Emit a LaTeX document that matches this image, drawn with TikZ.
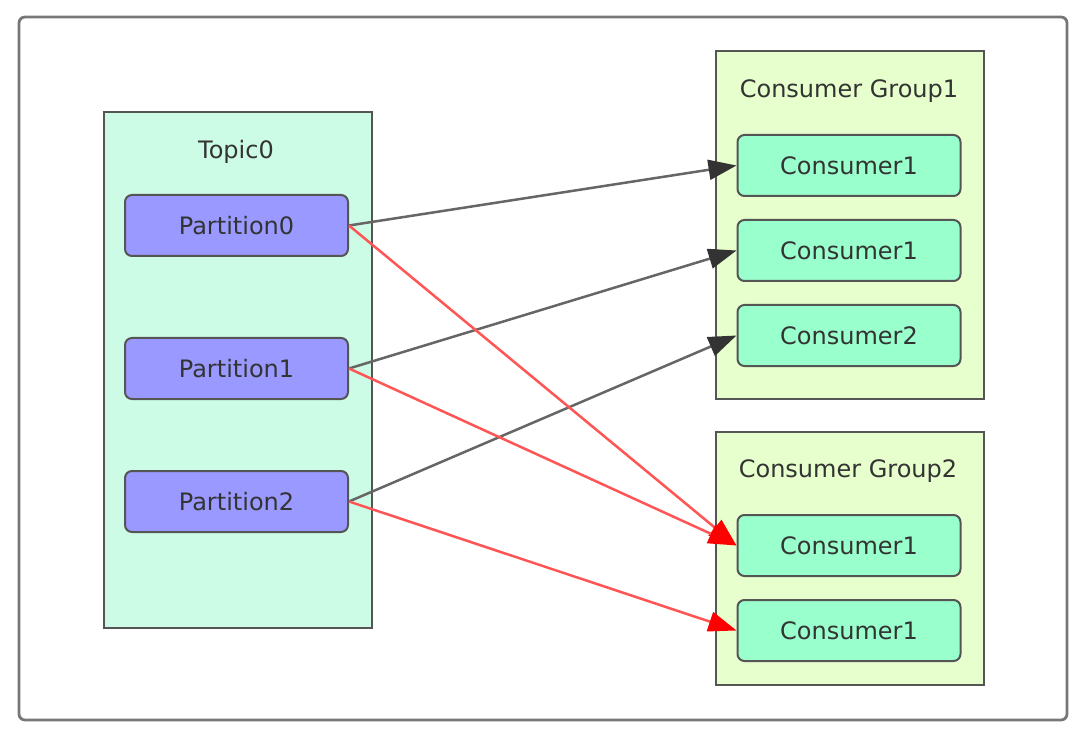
\documentclass[tikz,border=0pt]{standalone}
\usepackage{fontspec}
\setmainfont{DejaVu Sans}
\usetikzlibrary{arrows.meta}
\definecolor{frame}{HTML}{777777}
\definecolor{edge}{HTML}{555555}
\definecolor{topicfill}{HTML}{CCFCE6}
\definecolor{partfill}{HTML}{9999FF}
\definecolor{groupfill}{HTML}{E6FFCC}
\definecolor{consfill}{HTML}{99FFCC}
\definecolor{txt}{HTML}{333333}
\definecolor{grayline}{HTML}{666666}
\definecolor{grayhead}{HTML}{333333}
\definecolor{redline}{HTML}{FF5555}
\tikzset{
  every node/.style={font=\fontsize{24}{29}\selectfont, text=txt},
  container/.style={draw=edge, line width=2pt, anchor=north west, inner sep=0pt},
  itembox/.style={draw=edge, line width=2pt, rounded corners=7pt, minimum width=223pt, minimum height=61pt, inner sep=0pt},
  grayarrow/.style={draw=grayline, line width=2.5pt, -{Triangle[length=28pt, width=20pt, fill=grayhead, color=grayhead]}},
  redarrow/.style={draw=redline, line width=2.5pt, -{Triangle[length=28pt, width=20pt, fill=red, color=red]}},
}
\begin{document}
\begin{tikzpicture}[x=1pt, y=-1pt]
\useasboundingbox (0,0) rectangle (1088,738);
\draw[frame, line width=2.8pt, rounded corners=6pt, fill=white] (19,17) rectangle (1067,720);
% containers
\node[container, fill=topicfill, minimum width=268pt, minimum height=516pt] (topic) at (103,111) {};
\node (topict) at (236,152) {Topic0};
\node[container, fill=groupfill, minimum width=268pt, minimum height=348pt] (g1) at (715,50) {};
\node (g1t) at (849,91) {Consumer Group1};
\node[container, fill=groupfill, minimum width=268pt, minimum height=253pt] (g2) at (715,431) {};
\node (g2t) at (848,471) {Consumer Group2};
% partitions
\node[itembox, fill=partfill] (p0) at (236.5,225.5) {Partition0};
\node[itembox, fill=partfill] (p1) at (236.5,368.5) {Partition1};
\node[itembox, fill=partfill] (p2) at (236.5,501.5) {Partition2};
% consumers
\node[itembox, fill=consfill] (c1) at (849,165.5) {Consumer1};
\node[itembox, fill=consfill] (c2) at (849,250.5) {Consumer1};
\node[itembox, fill=consfill] (c3) at (849,335.5) {Consumer2};
\node[itembox, fill=consfill] (c4) at (849,545.5) {Consumer1};
\node[itembox, fill=consfill] (c5) at (849,630.5) {Consumer1};
% arrows
\draw[grayarrow] (p0.east) -- (c1.west);
\draw[grayarrow] (p1.east) -- (c2.west);
\draw[grayarrow] (p2.east) -- (c3.west);
\draw[redarrow] (p0.east) -- (c4.west);
\draw[redarrow] (p1.east) -- (c4.west);
\draw[redarrow] (p2.east) -- (c5.west);
\end{tikzpicture}
\end{document}
